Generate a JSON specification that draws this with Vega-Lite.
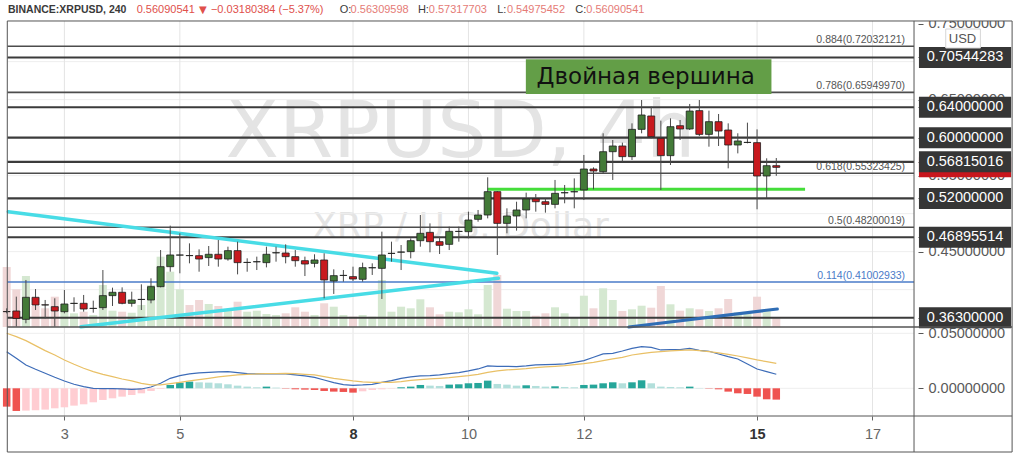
{
"$schema":"https://vega.github.io/schema/vega-lite/v6.json",
"width":1024,"height":454,"padding":0,
"autosize":{"type":"fit","contains":"padding"},
"background":"#ffffff",
"config":{"view":{"stroke":null}},
"datasets":{
"levels":[{"price":0.70544283},{"price":0.64},{"price":0.6},{"price":0.56815016},{"price":0.52},{"price":0.46895514},{"price":0.363}],
"fibs":[{"ratio":"0.884","price":0.72032121},{"ratio":"0.786","price":0.6594997},{"ratio":"0.618","price":0.55323425},{"ratio":"0.5","price":0.48200019},{"ratio":"0.114","price":0.41002933}],
"pgrid":[{"p":0.4},{"p":0.45},{"p":0.5},{"p":0.55},{"p":0.6},{"p":0.65},{"p":0.7}],
"days":[{"d":"2021-02-03T00:00:00Z"},{"d":"2021-02-05T00:00:00Z"},{"d":"2021-02-08T00:00:00Z"},{"d":"2021-02-10T00:00:00Z"},{"d":"2021-02-12T00:00:00Z"},{"d":"2021-02-15T00:00:00Z"},{"d":"2021-02-17T00:00:00Z"}],
"mgrid":[{"g":0},{"g":0.05}],
"k":[
{"t":"2021-02-02T00:00:00Z","o":0.3712,"h":0.3754,"l":0.3688,"c":0.371,"v":60,"m":0.03333,"s":0.05,"hist":-0.01667},
{"t":"2021-02-02T04:00:00Z","o":0.3719,"h":0.3908,"l":0.3513,"c":0.3622,"v":37.7,"m":0.02727,"s":0.04697,"hist":-0.02061},
{"t":"2021-02-02T08:00:00Z","o":0.3609,"h":0.4127,"l":0.3557,"c":0.3899,"v":51,"m":0.02121,"s":0.04333,"hist":-0.0203},
{"t":"2021-02-02T12:00:00Z","o":0.3899,"h":0.4008,"l":0.3732,"c":0.3798,"v":21,"m":0.01727,"s":0.03879,"hist":-0.02},
{"t":"2021-02-02T16:00:00Z","o":0.38,"h":0.3864,"l":0.3622,"c":0.3798,"v":18.7,"m":0.01364,"s":0.03424,"hist":-0.01939},
{"t":"2021-02-02T20:00:00Z","o":0.3776,"h":0.3886,"l":0.3513,"c":0.3719,"v":30.3,"m":0.01,"s":0.0303,"hist":-0.01818},
{"t":"2021-02-03T00:00:00Z","o":0.371,"h":0.3995,"l":0.3688,"c":0.3811,"v":18.7,"m":0.00667,"s":0.02576,"hist":-0.01727},
{"t":"2021-02-03T04:00:00Z","o":0.3818,"h":0.3899,"l":0.371,"c":0.382,"v":13.7,"m":0.00364,"s":0.02182,"hist":-0.01576},
{"t":"2021-02-03T08:00:00Z","o":0.382,"h":0.393,"l":0.371,"c":0.3745,"v":15.3,"m":0.00152,"s":0.01818,"hist":-0.01455},
{"t":"2021-02-03T12:00:00Z","o":0.3752,"h":0.3855,"l":0.3697,"c":0.3754,"v":12,"m":0,"s":0.01515,"hist":-0.01273},
{"t":"2021-02-03T16:00:00Z","o":0.3763,"h":0.4258,"l":0.3732,"c":0.3921,"v":42,"m":-0.0003,"s":0.01273,"hist":-0.01061},
{"t":"2021-02-03T20:00:00Z","o":0.3921,"h":0.4026,"l":0.3785,"c":0.3965,"v":16.3,"m":-0.0003,"s":0.01061,"hist":-0.00909},
{"t":"2021-02-04T00:00:00Z","o":0.3965,"h":0.403,"l":0.3807,"c":0.382,"v":15.3,"m":-0.00061,"s":0.00848,"hist":-0.00758},
{"t":"2021-02-04T04:00:00Z","o":0.382,"h":0.3973,"l":0.3776,"c":0.3864,"v":14.3,"m":-0.00091,"s":0.00667,"hist":-0.00606},
{"t":"2021-02-04T08:00:00Z","o":0.387,"h":0.407,"l":0.3732,"c":0.3872,"v":22,"m":-0.00061,"s":0.00455,"hist":-0.00455},
{"t":"2021-02-04T12:00:00Z","o":0.3864,"h":0.4149,"l":0.382,"c":0.4039,"v":42,"m":0.00121,"s":0.00303,"hist":-0.00242},
{"t":"2021-02-04T16:00:00Z","o":0.4039,"h":0.4521,"l":0.403,"c":0.4302,"v":70.3,"m":0.00455,"s":0.00303,"hist":-0.00061},
{"t":"2021-02-04T20:00:00Z","o":0.4302,"h":0.4842,"l":0.4236,"c":0.4456,"v":55.3,"m":0.00909,"s":0.00424,"hist":0.00303},
{"t":"2021-02-05T00:00:00Z","o":0.4454,"h":0.4741,"l":0.4215,"c":0.4456,"v":37.7,"m":0.01152,"s":0.00545,"hist":0.00515},
{"t":"2021-02-05T04:00:00Z","o":0.4449,"h":0.4609,"l":0.4346,"c":0.4447,"v":22,"m":0.01303,"s":0.00667,"hist":0.00606},
{"t":"2021-02-05T08:00:00Z","o":0.4447,"h":0.453,"l":0.4236,"c":0.4403,"v":27,"m":0.01394,"s":0.00788,"hist":0.00545},
{"t":"2021-02-05T12:00:00Z","o":0.4421,"h":0.4574,"l":0.4311,"c":0.4465,"v":23,"m":0.01455,"s":0.00909,"hist":0.00515},
{"t":"2021-02-05T16:00:00Z","o":0.4465,"h":0.4653,"l":0.4302,"c":0.4403,"v":21,"m":0.01485,"s":0.0103,"hist":0.00455},
{"t":"2021-02-05T20:00:00Z","o":0.4403,"h":0.4565,"l":0.4381,"c":0.4513,"v":17,"m":0.01515,"s":0.01121,"hist":0.00364},
{"t":"2021-02-06T00:00:00Z","o":0.4513,"h":0.4631,"l":0.4201,"c":0.4355,"v":25.3,"m":0.01424,"s":0.01212,"hist":0.00242},
{"t":"2021-02-06T04:00:00Z","o":0.4357,"h":0.4412,"l":0.4236,"c":0.4359,"v":15.3,"m":0.01333,"s":0.01273,"hist":0.00152},
{"t":"2021-02-06T08:00:00Z","o":0.4366,"h":0.4434,"l":0.4258,"c":0.4368,"v":16.3,"m":0.01303,"s":0.01303,"hist":0.00091},
{"t":"2021-02-06T12:00:00Z","o":0.4355,"h":0.4565,"l":0.4293,"c":0.4465,"v":13,"m":0.01303,"s":0.01333,"hist":0.00152},
{"t":"2021-02-06T16:00:00Z","o":0.4484,"h":0.4565,"l":0.4368,"c":0.4486,"v":12,"m":0.01303,"s":0.01333,"hist":0.00061},
{"t":"2021-02-06T20:00:00Z","o":0.4482,"h":0.4596,"l":0.4346,"c":0.4434,"v":13.7,"m":0.01303,"s":0.01364,"hist":-0.0003},
{"t":"2021-02-07T00:00:00Z","o":0.4434,"h":0.4521,"l":0.4302,"c":0.4381,"v":19.7,"m":0.01212,"s":0.01333,"hist":-0.00091},
{"t":"2021-02-07T04:00:00Z","o":0.4381,"h":0.4434,"l":0.4179,"c":0.4337,"v":15.3,"m":0.01121,"s":0.01273,"hist":-0.00121},
{"t":"2021-02-07T08:00:00Z","o":0.4346,"h":0.4465,"l":0.4293,"c":0.439,"v":12,"m":0.01,"s":0.01212,"hist":-0.00152},
{"t":"2021-02-07T12:00:00Z","o":0.439,"h":0.4478,"l":0.3886,"c":0.4127,"v":23.7,"m":0.00758,"s":0.01061,"hist":-0.00242},
{"t":"2021-02-07T16:00:00Z","o":0.4114,"h":0.4267,"l":0.3943,"c":0.4184,"v":20.3,"m":0.00515,"s":0.00909,"hist":-0.00303},
{"t":"2021-02-07T20:00:00Z","o":0.4186,"h":0.4258,"l":0.4105,"c":0.4188,"v":12,"m":0.00333,"s":0.00788,"hist":-0.00333},
{"t":"2021-02-08T00:00:00Z","o":0.4171,"h":0.4302,"l":0.4114,"c":0.414,"v":10.3,"m":0.00273,"s":0.00667,"hist":-0.00394},
{"t":"2021-02-08T04:00:00Z","o":0.4136,"h":0.4355,"l":0.4105,"c":0.4289,"v":12,"m":0.00303,"s":0.00576,"hist":-0.00273},
{"t":"2021-02-08T08:00:00Z","o":0.4287,"h":0.4346,"l":0.4193,"c":0.4289,"v":10.3,"m":0.00364,"s":0.00545,"hist":-0.00152},
{"t":"2021-02-08T12:00:00Z","o":0.428,"h":0.4763,"l":0.3877,"c":0.4456,"v":47,"m":0.00545,"s":0.00545,"hist":-0.00091},
{"t":"2021-02-08T16:00:00Z","o":0.4476,"h":0.4631,"l":0.4368,"c":0.4478,"v":15.3,"m":0.00697,"s":0.00545,"hist":-0.0003},
{"t":"2021-02-08T20:00:00Z","o":0.4493,"h":0.4587,"l":0.4258,"c":0.4495,"v":20.3,"m":0.00909,"s":0.00606,"hist":0.00091},
{"t":"2021-02-09T00:00:00Z","o":0.45,"h":0.4675,"l":0.4412,"c":0.4644,"v":18.7,"m":0.0103,"s":0.00727,"hist":0.00152},
{"t":"2021-02-09T04:00:00Z","o":0.4644,"h":0.4982,"l":0.4565,"c":0.4741,"v":27.7,"m":0.01121,"s":0.00788,"hist":0.00303},
{"t":"2021-02-09T08:00:00Z","o":0.4754,"h":0.4872,"l":0.4491,"c":0.4631,"v":19.7,"m":0.01152,"s":0.00848,"hist":0.00242},
{"t":"2021-02-09T12:00:00Z","o":0.4631,"h":0.4697,"l":0.4469,"c":0.4583,"v":12.7,"m":0.01212,"s":0.00909,"hist":0.00212},
{"t":"2021-02-09T16:00:00Z","o":0.4596,"h":0.4829,"l":0.4521,"c":0.4767,"v":15.3,"m":0.01333,"s":0.0097,"hist":0.00333},
{"t":"2021-02-09T20:00:00Z","o":0.4765,"h":0.4829,"l":0.4631,"c":0.4767,"v":14.7,"m":0.01424,"s":0.01061,"hist":0.00364},
{"t":"2021-02-10T00:00:00Z","o":0.4763,"h":0.5026,"l":0.4675,"c":0.4916,"v":17.7,"m":0.01576,"s":0.01152,"hist":0.00455},
{"t":"2021-02-10T04:00:00Z","o":0.4925,"h":0.5048,"l":0.4894,"c":0.4982,"v":12.7,"m":0.01758,"s":0.01273,"hist":0.00485},
{"t":"2021-02-10T08:00:00Z","o":0.4982,"h":0.5478,"l":0.4938,"c":0.5289,"v":42,"m":0.0203,"s":0.01455,"hist":0.00697},
{"t":"2021-02-10T12:00:00Z","o":0.5289,"h":0.5295,"l":0.4456,"c":0.4872,"v":52,"m":0.02,"s":0.01576,"hist":0.00394},
{"t":"2021-02-10T16:00:00Z","o":0.4872,"h":0.507,"l":0.4741,"c":0.4969,"v":18.3,"m":0.02,"s":0.01667,"hist":0.00333},
{"t":"2021-02-10T20:00:00Z","o":0.4969,"h":0.5157,"l":0.4776,"c":0.5048,"v":16,"m":0.0197,"s":0.01727,"hist":0.00242},
{"t":"2021-02-11T00:00:00Z","o":0.5048,"h":0.5276,"l":0.4938,"c":0.5193,"v":16,"m":0.0203,"s":0.01788,"hist":0.00273},
{"t":"2021-02-11T04:00:00Z","o":0.5193,"h":0.5258,"l":0.5026,"c":0.5157,"v":11.3,"m":0.02121,"s":0.01879,"hist":0.00212},
{"t":"2021-02-11T08:00:00Z","o":0.5157,"h":0.5201,"l":0.5013,"c":0.5122,"v":13.7,"m":0.02152,"s":0.01939,"hist":0.00152},
{"t":"2021-02-11T12:00:00Z","o":0.5122,"h":0.5443,"l":0.507,"c":0.5267,"v":19.7,"m":0.02182,"s":0.02,"hist":0.00182},
{"t":"2021-02-11T16:00:00Z","o":0.5274,"h":0.5377,"l":0.5136,"c":0.5276,"v":13.7,"m":0.02212,"s":0.02061,"hist":0.00121},
{"t":"2021-02-11T20:00:00Z","o":0.5287,"h":0.5464,"l":0.507,"c":0.5289,"v":9.3,"m":0.02364,"s":0.02152,"hist":0.00091},
{"t":"2021-02-12T00:00:00Z","o":0.5311,"h":0.5772,"l":0.5179,"c":0.5587,"v":31.3,"m":0.02515,"s":0.02242,"hist":0.00303},
{"t":"2021-02-12T04:00:00Z","o":0.5587,"h":0.5609,"l":0.532,"c":0.5561,"v":18.7,"m":0.02818,"s":0.02364,"hist":0.00333},
{"t":"2021-02-12T08:00:00Z","o":0.5552,"h":0.6057,"l":0.553,"c":0.5815,"v":38.7,"m":0.03121,"s":0.02515,"hist":0.00455},
{"t":"2021-02-12T12:00:00Z","o":0.5815,"h":0.5969,"l":0.5443,"c":0.589,"v":27,"m":0.03182,"s":0.02667,"hist":0.00545},
{"t":"2021-02-12T16:00:00Z","o":0.589,"h":0.5934,"l":0.5684,"c":0.575,"v":16,"m":0.03394,"s":0.02818,"hist":0.00455},
{"t":"2021-02-12T20:00:00Z","o":0.575,"h":0.6188,"l":0.5706,"c":0.6109,"v":17.7,"m":0.03636,"s":0.0303,"hist":0.00545},
{"t":"2021-02-13T00:00:00Z","o":0.6109,"h":0.6495,"l":0.6057,"c":0.6298,"v":21.3,"m":0.03788,"s":0.03152,"hist":0.00727},
{"t":"2021-02-13T04:00:00Z","o":0.6285,"h":0.6408,"l":0.5991,"c":0.6013,"v":19.3,"m":0.03727,"s":0.03273,"hist":0.00455},
{"t":"2021-02-13T08:00:00Z","o":0.5991,"h":0.6223,"l":0.5311,"c":0.5763,"v":41,"m":0.03485,"s":0.03333,"hist":0.00152},
{"t":"2021-02-13T12:00:00Z","o":0.5763,"h":0.6254,"l":0.564,"c":0.6144,"v":22.7,"m":0.03515,"s":0.03394,"hist":0.00121},
{"t":"2021-02-13T16:00:00Z","o":0.6157,"h":0.6232,"l":0.5969,"c":0.6114,"v":16.3,"m":0.03515,"s":0.03455,"hist":0.00091},
{"t":"2021-02-13T20:00:00Z","o":0.6114,"h":0.6443,"l":0.61,"c":0.635,"v":18.7,"m":0.03636,"s":0.03485,"hist":0.00152},
{"t":"2021-02-14T00:00:00Z","o":0.6355,"h":0.6495,"l":0.6021,"c":0.6043,"v":17.7,"m":0.03455,"s":0.03424,"hist":0.0003},
{"t":"2021-02-14T04:00:00Z","o":0.6043,"h":0.6355,"l":0.5881,"c":0.621,"v":16,"m":0.03364,"s":0.03333,"hist":-0.0003},
{"t":"2021-02-14T08:00:00Z","o":0.621,"h":0.6311,"l":0.589,"c":0.6087,"v":18.7,"m":0.03121,"s":0.03212,"hist":-0.00091},
{"t":"2021-02-14T12:00:00Z","o":0.61,"h":0.6188,"l":0.5596,"c":0.5903,"v":28,"m":0.02879,"s":0.03091,"hist":-0.00303},
{"t":"2021-02-14T16:00:00Z","o":0.5903,"h":0.6057,"l":0.5793,"c":0.5956,"v":14.7,"m":0.02667,"s":0.02939,"hist":-0.00455},
{"t":"2021-02-14T20:00:00Z","o":0.5936,"h":0.6197,"l":0.5925,"c":0.5938,"v":13.7,"m":0.02212,"s":0.02758,"hist":-0.00515},
{"t":"2021-02-15T00:00:00Z","o":0.5934,"h":0.6109,"l":0.5057,"c":0.5495,"v":30.3,"m":0.01758,"s":0.02576,"hist":-0.00758},
{"t":"2021-02-15T04:00:00Z","o":0.5495,"h":0.5728,"l":0.5201,"c":0.5631,"v":17,"m":0.01515,"s":0.02424,"hist":-0.01},
{"t":"2021-02-15T08:00:00Z","o":0.56309598,"h":0.57317703,"l":0.54975452,"c":0.56090541,"v":8.7,"m":0.01273,"s":0.02273,"hist":-0.0103}
]
},
"resolve":{"scale":{"y":"independent"}},
"layer":[
{"data":{"values":[{}]},"mark":{"type":"text","font":"DejaVu Sans","fontSize":78,"color":"#e4e4e4","align":"center","baseline":"alphabetic"},
 "encoding":{"x":{"datum":{"year":2021,"month":2,"date":9,"hours":20,"minutes":41,"utc":true},"type":"temporal","scale":{"type":"utc","domain":[{"year":2021,"month":2,"date":1,"hours":23,"minutes":18,"utc":true},{"year":2021,"month":2,"date":19,"hours":12,"minutes":55,"utc":true}],"nice":false}},
  "y":{"datum":0.57452,"type":"quantitative","scale":{"domain":[0.18373,0.7811],"nice":false,"zero":false},"axis":null},"text":{"value":"XRPUSD, 4h"}}},
{"data":{"values":[{}]},"mark":{"type":"text","font":"DejaVu Sans","fontSize":36,"color":"#e4e4e4","align":"center","baseline":"alphabetic"},
 "encoding":{"x":{"datum":{"year":2021,"month":2,"date":9,"hours":20,"minutes":41,"utc":true},"type":"temporal"},
  "y":{"datum":0.46794,"type":"quantitative","scale":{"domain":[0.18373,0.7811],"nice":false,"zero":false},"axis":null},"text":{"value":"XRP / U.S. Dollar"}}},
{"data":{"name":"pgrid"},"mark":{"type":"rule","color":"#eeeeee","strokeWidth":1},
 "encoding":{"x":{"datum":{"year":2021,"month":2,"date":2,"hours":0,"minutes":20,"utc":true},"type":"temporal"},"x2":{"datum":{"year":2021,"month":2,"date":17,"hours":17,"minutes":16,"utc":true}},
  "y":{"field":"p","type":"quantitative","scale":{"domain":[0.18373,0.7811],"nice":false,"zero":false},"axis":null}}},
{"data":{"name":"days"},"mark":{"type":"rule","color":"#e4e4e4","strokeWidth":1},
 "encoding":{"x":{"field":"d","type":"temporal"},
  "y":{"datum":0.75347,"type":"quantitative","scale":{"domain":[0.18373,0.7811],"nice":false,"zero":false},"axis":null},"y2":{"datum":0.23373}}},
{"data":{"name":"mgrid"},"mark":{"type":"rule","color":"#eeeeee","strokeWidth":1},
 "encoding":{"x":{"datum":{"year":2021,"month":2,"date":2,"hours":0,"minutes":20,"utc":true},"type":"temporal"},"x2":{"datum":{"year":2021,"month":2,"date":17,"hours":17,"minutes":16,"utc":true}},
  "y":{"field":"g","type":"quantitative","scale":{"domain":[-0.05973,0.353],"nice":false,"zero":false},"axis":null}}},
{"data":{"name":"k"},"mark":{"type":"bar","size":8,"orient":"vertical"},
 "encoding":{"x":{"field":"t","type":"temporal"},
  "y":{"field":"v","type":"quantitative","scale":{"domain":[-127,327],"nice":false,"zero":false},"axis":null},"y2":{"datum":0},
  "color":{"condition":{"test":"datum.c >= datum.o","value":"#d5e8d1"},"value":"#f0d7d7"}}},
{"data":{"name":"levels"},"mark":{"type":"rule","color":"#3b3b3b","strokeWidth":2.2},
 "encoding":{"x":{"datum":{"year":2021,"month":2,"date":2,"hours":0,"minutes":20,"utc":true},"type":"temporal"},"x2":{"datum":{"year":2021,"month":2,"date":17,"hours":17,"minutes":16,"utc":true}},
  "y":{"field":"price","type":"quantitative","scale":{"domain":[0.18373,0.7811],"nice":false,"zero":false},
   "axis":{"orient":"right","offset":-106,"values":[0.75,0.65,0.55,0.45,0.70544283,0.64,0.6,0.56815016,0.52,0.46895514,0.363],"format":".8f",
    "labelExpr":"(datum.value == 0.75 || datum.value == 0.65 || datum.value == 0.55 || datum.value == 0.45) ? datum.label : ''",
    "domain":false,"grid":false,"ticks":true,"tickSize":5,"tickColor":"#555555","labelPadding":5,"labelFont":"Liberation Sans","labelFontSize":14.5,"labelColor":"#5a5a5a","labelOverlap":false,"labelFlush":false,"labelBaseline":"middle","labelAlign":"left","title":null}}}},
{"data":{"name":"fibs"},"mark":{"type":"rule","strokeWidth":1.6},
 "encoding":{"x":{"datum":{"year":2021,"month":2,"date":2,"hours":0,"minutes":20,"utc":true},"type":"temporal"},"x2":{"datum":{"year":2021,"month":2,"date":17,"hours":17,"minutes":16,"utc":true}},
  "y":{"field":"price","type":"quantitative","scale":{"domain":[0.18373,0.7811],"nice":false,"zero":false},"axis":null},
  "color":{"condition":{"test":"datum.ratio == '0.114'","value":"#4a7bc8"},"value":"#4d4d4d"}}},
{"data":{"values":[{}]},"mark":{"type":"rule","color":"#48dce6","strokeWidth":3.5,"strokeCap":"round"},
 "encoding":{"x":{"datum":{"year":2021,"month":2,"date":2,"hours":0,"minutes":39,"utc":true},"type":"temporal"},"x2":{"datum":{"year":2021,"month":2,"date":10,"hours":11,"minutes":48,"utc":true}},
  "y":{"datum":0.50255,"type":"quantitative","scale":{"domain":[0.18373,0.7811],"nice":false,"zero":false},"axis":null},"y2":{"datum":0.42149}}},
{"data":{"values":[{}]},"mark":{"type":"rule","color":"#48dce6","strokeWidth":3.5,"strokeCap":"round"},
 "encoding":{"x":{"datum":{"year":2021,"month":2,"date":3,"hours":6,"minutes":53,"utc":true},"type":"temporal"},"x2":{"datum":{"year":2021,"month":2,"date":10,"hours":12,"minutes":28,"utc":true}},
  "y":{"datum":0.35123,"type":"quantitative","scale":{"domain":[0.18373,0.7811],"nice":false,"zero":false},"axis":null},"y2":{"datum":0.41491}}},
{"data":{"values":[{}]},"mark":{"type":"rule","color":"#2f6db5","strokeWidth":3,"strokeCap":"round"},
 "encoding":{"x":{"datum":{"year":2021,"month":2,"date":12,"hours":18,"minutes":41,"utc":true},"type":"temporal"},"x2":{"datum":{"year":2021,"month":2,"date":15,"hours":8,"minutes":27,"utc":true}},
  "y":{"datum":0.35083,"type":"quantitative","scale":{"domain":[0.18373,0.7811],"nice":false,"zero":false},"axis":null},"y2":{"datum":0.37452}}},
{"data":{"values":[{}]},"mark":{"type":"rule","color":"#45dd3a","strokeWidth":3},
 "encoding":{"x":{"datum":{"year":2021,"month":2,"date":10,"hours":7,"minutes":49,"utc":true},"type":"temporal"},"x2":{"datum":{"year":2021,"month":2,"date":15,"hours":19,"minutes":58,"utc":true}},
  "y":{"datum":0.53202,"type":"quantitative","scale":{"domain":[0.18373,0.7811],"nice":false,"zero":false},"axis":null}}},
{"data":{"name":"k"},
 "transform":[{"window":[{"op":"lag","field":"hist","as":"prev"}],"sort":[{"field":"t"}]},
  {"calculate":"datum.hist >= 0 ? ((datum.prev != null && datum.hist < datum.prev) ? 'pos_fall' : 'pos_rise') : ((datum.prev != null && datum.hist > datum.prev) ? 'neg_rise' : 'neg_fall')","as":"phase"}],
 "mark":{"type":"bar","size":7.5,"orient":"vertical"},
 "encoding":{"x":{"field":"t","type":"temporal"},
  "y":{"field":"hist","type":"quantitative","scale":{"domain":[-0.05973,0.353],"nice":false,"zero":false},
   "axis":{"orient":"right","offset":-106,"values":[0,0.05],"format":".8f","domain":false,"grid":false,"ticks":true,"tickSize":5,"tickColor":"#555555","labelPadding":5,"labelFont":"Liberation Sans","labelFontSize":14.5,"labelColor":"#5a5a5a","labelOverlap":false,"labelFlush":false,"labelBaseline":"middle","labelAlign":"left","title":null}},
  "y2":{"datum":0},
  "color":{"field":"phase","type":"nominal","scale":{"domain":["pos_rise","pos_fall","neg_rise","neg_fall"],"range":["#26a69a","#b2dfdb","#ffcdd2","#ef5350"]},"legend":null}}},
{"data":{"name":"k"},"mark":{"type":"line","color":"#3d6cb8","strokeWidth":1.2},
 "encoding":{"x":{"field":"t","type":"temporal"},"y":{"field":"m","type":"quantitative","scale":{"domain":[-0.05973,0.353],"nice":false,"zero":false},"axis":null}}},
{"data":{"name":"k"},"mark":{"type":"line","color":"#e9c066","strokeWidth":1.2},
 "encoding":{"x":{"field":"t","type":"temporal"},"y":{"field":"s","type":"quantitative","scale":{"domain":[-0.05973,0.353],"nice":false,"zero":false},"axis":null}}},
{"data":{"name":"k"},"mark":{"type":"rule","color":"#4a4a4a","strokeWidth":1},
 "encoding":{"x":{"field":"t","type":"temporal","scale":{"type":"utc","domain":[{"year":2021,"month":2,"date":1,"hours":23,"minutes":18,"utc":true},{"year":2021,"month":2,"date":19,"hours":12,"minutes":55,"utc":true}],"nice":false},
   "axis":{"orient":"bottom","offset":-38,"values":[{"year":2021,"month":2,"date":3,"utc":true},{"year":2021,"month":2,"date":5,"utc":true},{"year":2021,"month":2,"date":8,"utc":true},{"year":2021,"month":2,"date":10,"utc":true},{"year":2021,"month":2,"date":12,"utc":true},{"year":2021,"month":2,"date":15,"utc":true},{"year":2021,"month":2,"date":17,"utc":true}],
    "labelExpr":"utcFormat(datum.value, '%-d')","domain":false,"grid":false,"tickSize":4,"tickColor":"#666666","labelPadding":7,"labelFont":"Liberation Sans","labelFontSize":14.5,
    "labelColor":{"condition":{"test":"utcdate(datum.value) == 8 || utcdate(datum.value) == 15","value":"#333333"},"value":"#666666"},
    "labelFontWeight":{"condition":{"test":"utcdate(datum.value) == 8 || utcdate(datum.value) == 15","value":"bold"},"value":"normal"},
    "labelOverlap":false,"labelFlush":false,"title":null}},
  "y":{"field":"l","type":"quantitative","scale":{"domain":[0.18373,0.7811],"nice":false,"zero":false},"axis":null},"y2":{"field":"h"}}},
{"data":{"name":"k"},"mark":{"type":"bar","size":7,"orient":"vertical","stroke":"#1f1f1f","strokeWidth":0.8},
 "encoding":{"x":{"field":"t","type":"temporal"},
  "y":{"field":"o","type":"quantitative","scale":{"domain":[0.18373,0.7811],"nice":false,"zero":false},"axis":null},"y2":{"field":"c"},
  "color":{"condition":{"test":"datum.c >= datum.o","value":"#437a38"},"value":"#c8191e"}}},
{"data":{"values":[{}]},"mark":{"type":"rect","color":"#639e47"},
 "encoding":{"x":{"datum":{"year":2021,"month":2,"date":10,"hours":23,"minutes":52,"utc":true},"type":"temporal"},"x2":{"datum":{"year":2021,"month":2,"date":15,"hours":5,"minutes":59,"utc":true}},
  "y":{"datum":0.70307,"type":"quantitative","scale":{"domain":[0.18373,0.7811],"nice":false,"zero":false},"axis":null},"y2":{"datum":0.65741}}},
{"data":{"values":[{}]},"mark":{"type":"text","font":"DejaVu Sans","fontSize":23,"color":"#111111","align":"center","baseline":"middle"},
 "encoding":{"x":{"datum":{"year":2021,"month":2,"date":13,"hours":1,"minutes":41,"utc":true},"type":"temporal"},
  "y":{"datum":0.67978,"type":"quantitative","scale":{"domain":[0.18373,0.7811],"nice":false,"zero":false},"axis":null},"text":{"value":"Двойная вершина"}}},
{"data":{"name":"fibs"},"transform":[{"calculate":"datum.ratio + '(' + format(datum.price, '.8f') + ')'","as":"lbl"}],
 "mark":{"type":"text","font":"Liberation Sans","fontSize":10.5,"align":"right","baseline":"alphabetic","dy":-3},
 "encoding":{"x":{"datum":{"year":2021,"month":2,"date":17,"hours":13,"minutes":34,"utc":true},"type":"temporal"},
  "y":{"field":"price","type":"quantitative","scale":{"domain":[0.18373,0.7811],"nice":false,"zero":false},"axis":null},
  "text":{"field":"lbl"},"color":{"condition":{"test":"datum.ratio == '0.114'","value":"#4a7bc8"},"value":"#555555"}}},
{"data":{"values":[{}]},"mark":{"type":"rule","color":"#c8161d","strokeWidth":20,"strokeCap":"butt"},
 "encoding":{"x":{"datum":{"year":2021,"month":2,"date":17,"hours":19,"minutes":19,"utc":true},"type":"temporal"},"x2":{"datum":{"year":2021,"month":2,"date":19,"hours":9,"minutes":38,"utc":true}},
  "y":{"datum":0.56090541,"type":"quantitative","scale":{"domain":[0.18373,0.7811],"nice":false,"zero":false},"axis":null}}},
{"data":{"name":"levels"},"mark":{"type":"rule","color":"#363636","strokeWidth":21,"strokeCap":"butt"},
 "encoding":{"x":{"datum":{"year":2021,"month":2,"date":17,"hours":19,"minutes":19,"utc":true},"type":"temporal"},"x2":{"datum":{"year":2021,"month":2,"date":19,"hours":9,"minutes":38,"utc":true}},
  "y":{"field":"price","type":"quantitative","scale":{"domain":[0.18373,0.7811],"nice":false,"zero":false},"axis":null}}},
{"data":{"name":"levels"},"mark":{"type":"text","font":"Liberation Sans","fontSize":14.5,"color":"#ffffff","align":"center","baseline":"middle"},
 "encoding":{"x":{"datum":{"year":2021,"month":2,"date":18,"hours":14,"minutes":28,"utc":true},"type":"temporal"},
  "y":{"field":"price","type":"quantitative","scale":{"domain":[0.18373,0.7811],"nice":false,"zero":false},"axis":null},"text":{"field":"price","format":".8f"}}},
{"data":{"values":[{}]},"mark":{"type":"rect","color":"#ffffff"},
 "encoding":{"x":{"datum":{"year":2021,"month":2,"date":1,"hours":23,"minutes":18,"utc":true},"type":"temporal"},"x2":{"datum":{"year":2021,"month":2,"date":19,"hours":12,"minutes":55,"utc":true}},
  "y":{"datum":0.7811,"type":"quantitative","scale":{"domain":[0.18373,0.7811],"nice":false,"zero":false},"axis":null},"y2":{"datum":0.75347}}},
{"data":{"values":[{}]},"mark":{"type":"text","font":"Liberation Sans","fontSize":10.5,"fontWeight":"bold","color":"#3a3a3a","align":"left","baseline":"middle"},
 "encoding":{"x":{"datum":{"year":2021,"month":2,"date":2,"hours":0,"minutes":32,"utc":true},"type":"temporal"},
  "y":{"datum":0.76794,"type":"quantitative","scale":{"domain":[0.18373,0.7811],"nice":false,"zero":false},"axis":null},"text":{"value":"BINANCE:XRPUSD, 240"}}},
{"data":{"values":[{}]},"mark":{"type":"text","font":"Liberation Sans","fontSize":11,"color":"#e0504b","align":"left","baseline":"middle"},
 "encoding":{"x":{"datum":{"year":2021,"month":2,"date":4,"hours":6,"minutes":3,"utc":true},"type":"temporal"},
  "y":{"datum":0.76794,"type":"quantitative","scale":{"domain":[0.18373,0.7811],"nice":false,"zero":false},"axis":null},"text":{"value":"0.56090541"}}},
{"data":{"values":[{}]},"mark":{"type":"text","font":"DejaVu Sans","fontSize":10,"color":"#e0504b","align":"left","baseline":"middle"},
 "encoding":{"x":{"datum":{"year":2021,"month":2,"date":5,"hours":8,"minutes":0,"utc":true},"type":"temporal"},
  "y":{"datum":0.76794,"type":"quantitative","scale":{"domain":[0.18373,0.7811],"nice":false,"zero":false},"axis":null},"text":{"value":"▼"}}},
{"data":{"values":[{}]},"mark":{"type":"text","font":"Liberation Sans","fontSize":11,"color":"#e0504b","align":"left","baseline":"middle"},
 "encoding":{"x":{"datum":{"year":2021,"month":2,"date":5,"hours":12,"minutes":56,"utc":true},"type":"temporal"},
  "y":{"datum":0.76794,"type":"quantitative","scale":{"domain":[0.18373,0.7811],"nice":false,"zero":false},"axis":null},"text":{"value":"−0.03180384 (−5.37%)"}}},
{"data":{"values":[{}]},"mark":{"type":"text","font":"Liberation Sans","fontSize":11,"color":"#3a3a3a","align":"left","baseline":"middle"},
 "encoding":{"x":{"datum":{"year":2021,"month":2,"date":7,"hours":18,"minutes":28,"utc":true},"type":"temporal"},
  "y":{"datum":0.76794,"type":"quantitative","scale":{"domain":[0.18373,0.7811],"nice":false,"zero":false},"axis":null},"text":{"value":"O:"}}},
{"data":{"values":[{}]},"mark":{"type":"text","font":"Liberation Sans","fontSize":11,"color":"#e57b76","align":"left","baseline":"middle"},
 "encoding":{"x":{"datum":{"year":2021,"month":2,"date":7,"hours":23,"minutes":0,"utc":true},"type":"temporal"},
  "y":{"datum":0.76794,"type":"quantitative","scale":{"domain":[0.18373,0.7811],"nice":false,"zero":false},"axis":null},"text":{"value":"0.56309598"}}},
{"data":{"values":[{}]},"mark":{"type":"text","font":"Liberation Sans","fontSize":11,"color":"#3a3a3a","align":"left","baseline":"middle"},
 "encoding":{"x":{"datum":{"year":2021,"month":2,"date":9,"hours":2,"minutes":59,"utc":true},"type":"temporal"},
  "y":{"datum":0.76794,"type":"quantitative","scale":{"domain":[0.18373,0.7811],"nice":false,"zero":false},"axis":null},"text":{"value":"H:"}}},
{"data":{"values":[{}]},"mark":{"type":"text","font":"Liberation Sans","fontSize":11,"color":"#e57b76","align":"left","baseline":"middle"},
 "encoding":{"x":{"datum":{"year":2021,"month":2,"date":9,"hours":7,"minutes":30,"utc":true},"type":"temporal"},
  "y":{"datum":0.76794,"type":"quantitative","scale":{"domain":[0.18373,0.7811],"nice":false,"zero":false},"axis":null},"text":{"value":"0.57317703"}}},
{"data":{"values":[{}]},"mark":{"type":"text","font":"Liberation Sans","fontSize":11,"color":"#3a3a3a","align":"left","baseline":"middle"},
 "encoding":{"x":{"datum":{"year":2021,"month":2,"date":10,"hours":11,"minutes":56,"utc":true},"type":"temporal"},
  "y":{"datum":0.76794,"type":"quantitative","scale":{"domain":[0.18373,0.7811],"nice":false,"zero":false},"axis":null},"text":{"value":"L:"}}},
{"data":{"values":[{}]},"mark":{"type":"text","font":"Liberation Sans","fontSize":11,"color":"#e57b76","align":"left","baseline":"middle"},
 "encoding":{"x":{"datum":{"year":2021,"month":2,"date":10,"hours":16,"minutes":0,"utc":true},"type":"temporal"},
  "y":{"datum":0.76794,"type":"quantitative","scale":{"domain":[0.18373,0.7811],"nice":false,"zero":false},"axis":null},"text":{"value":"0.54975452"}}},
{"data":{"values":[{}]},"mark":{"type":"text","font":"Liberation Sans","fontSize":11,"color":"#3a3a3a","align":"left","baseline":"middle"},
 "encoding":{"x":{"datum":{"year":2021,"month":2,"date":11,"hours":20,"minutes":27,"utc":true},"type":"temporal"},
  "y":{"datum":0.76794,"type":"quantitative","scale":{"domain":[0.18373,0.7811],"nice":false,"zero":false},"axis":null},"text":{"value":"C:"}}},
{"data":{"values":[{}]},"mark":{"type":"text","font":"Liberation Sans","fontSize":11,"color":"#e57b76","align":"left","baseline":"middle"},
 "encoding":{"x":{"datum":{"year":2021,"month":2,"date":12,"hours":1,"minutes":0,"utc":true},"type":"temporal"},
  "y":{"datum":0.76794,"type":"quantitative","scale":{"domain":[0.18373,0.7811],"nice":false,"zero":false},"axis":null},"text":{"value":"0.56090541"}}},
{"data":{"values":[{}]},"mark":{"type":"rect","color":"#ffffff","stroke":"#d6d6d6","strokeWidth":1},
 "encoding":{"x":{"datum":{"year":2021,"month":2,"date":18,"hours":6,"minutes":27,"utc":true},"type":"temporal"},"x2":{"datum":{"year":2021,"month":2,"date":18,"hours":20,"minutes":52,"utc":true}},
  "y":{"datum":0.74294,"type":"quantitative","scale":{"domain":[0.18373,0.7811],"nice":false,"zero":false},"axis":null},"y2":{"datum":0.71794}}},
{"data":{"values":[{}]},"mark":{"type":"text","font":"Liberation Sans","fontSize":13,"color":"#555555","align":"center","baseline":"middle"},
 "encoding":{"x":{"datum":{"year":2021,"month":2,"date":18,"hours":13,"minutes":26,"utc":true},"type":"temporal"},
  "y":{"datum":0.72978,"type":"quantitative","scale":{"domain":[0.18373,0.7811],"nice":false,"zero":false},"axis":null},"text":{"value":"USD"}}},
{"data":{"values":[{}]},"mark":{"type":"rule","color":"#555555","strokeWidth":1},
 "encoding":{"x":{"datum":{"year":2021,"month":2,"date":2,"hours":0,"minutes":15,"utc":true},"type":"temporal"},"x2":{"datum":{"year":2021,"month":2,"date":19,"hours":10,"minutes":3,"utc":true}},
  "y":{"datum":0.75347,"type":"quantitative","scale":{"domain":[0.18373,0.7811],"nice":false,"zero":false},"axis":null}}},
{"data":{"values":[{}]},"mark":{"type":"rule","color":"#555555","strokeWidth":1.5},
 "encoding":{"x":{"datum":{"year":2021,"month":2,"date":2,"hours":0,"minutes":15,"utc":true},"type":"temporal"},"x2":{"datum":{"year":2021,"month":2,"date":19,"hours":10,"minutes":3,"utc":true}},
  "y":{"datum":0.35083,"type":"quantitative","scale":{"domain":[0.18373,0.7811],"nice":false,"zero":false},"axis":null}}},
{"data":{"values":[{}]},"mark":{"type":"rule","color":"#555555","strokeWidth":1},
 "encoding":{"x":{"datum":{"year":2021,"month":2,"date":2,"hours":0,"minutes":15,"utc":true},"type":"temporal"},"x2":{"datum":{"year":2021,"month":2,"date":19,"hours":10,"minutes":3,"utc":true}},
  "y":{"datum":0.23373,"type":"quantitative","scale":{"domain":[0.18373,0.7811],"nice":false,"zero":false},"axis":null}}},
{"data":{"values":[{}]},"mark":{"type":"rule","color":"#555555","strokeWidth":1},
 "encoding":{"x":{"datum":{"year":2021,"month":2,"date":2,"hours":0,"minutes":15,"utc":true},"type":"temporal"},"x2":{"datum":{"year":2021,"month":2,"date":19,"hours":10,"minutes":3,"utc":true}},
  "y":{"datum":0.18636,"type":"quantitative","scale":{"domain":[0.18373,0.7811],"nice":false,"zero":false},"axis":null}}},
{"data":{"values":[{}]},"mark":{"type":"rule","color":"#555555","strokeWidth":1},
 "encoding":{"x":{"datum":{"year":2021,"month":2,"date":2,"hours":0,"minutes":15,"utc":true},"type":"temporal"},
  "y":{"datum":0.75347,"type":"quantitative","scale":{"domain":[0.18373,0.7811],"nice":false,"zero":false},"axis":null},"y2":{"datum":0.18636}}},
{"data":{"values":[{}]},"mark":{"type":"rule","color":"#555555","strokeWidth":1},
 "encoding":{"x":{"datum":{"year":2021,"month":2,"date":17,"hours":17,"minutes":16,"utc":true},"type":"temporal"},
  "y":{"datum":0.75347,"type":"quantitative","scale":{"domain":[0.18373,0.7811],"nice":false,"zero":false},"axis":null},"y2":{"datum":0.18636}}},
{"data":{"values":[{}]},"mark":{"type":"rule","color":"#555555","strokeWidth":1},
 "encoding":{"x":{"datum":{"year":2021,"month":2,"date":19,"hours":10,"minutes":3,"utc":true},"type":"temporal"},
  "y":{"datum":0.75347,"type":"quantitative","scale":{"domain":[0.18373,0.7811],"nice":false,"zero":false},"axis":null},"y2":{"datum":0.18636}}}
]
}
